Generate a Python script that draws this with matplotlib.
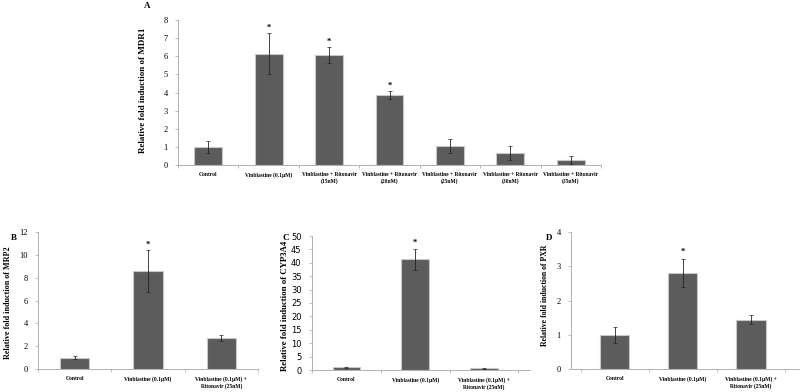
import matplotlib
matplotlib.use("Agg")
import matplotlib.pyplot as plt

W, H = 800, 392

# panel A: MDR1
mdr1_labels = ["Control", "Vinblastine (0.1μM)",
               "Vinblastine + Ritonavir\n(15nM)", "Vinblastine + Ritonavir\n(20nM)",
               "Vinblastine + Ritonavir\n(25nM)", "Vinblastine + Ritonavir\n(30nM)",
               "Vinblastine + Ritonavir\n(35nM)"]
mdr1_vals = [1.0, 6.15, 6.05, 3.85, 1.05, 0.68, 0.27]
mdr1_err = [0.32, 1.14, 0.44, 0.21, 0.40, 0.39, 0.22]
mdr1_sig = [False, True, True, True, False, False, False]

# panels B-D share the same groups
small_labels = ["Control", "Vinblastine (0.1μM)", "Vinblastine (0.1μM) +\nRitonavir (25nM)"]
mrp2_vals = [1.0, 8.6, 2.72]
mrp2_err = [0.15, 1.85, 0.25]
cyp3a4_vals = [1.0, 41.3, 0.7]
cyp3a4_err = [0.2, 4.0, 0.2]
pxr_vals = [1.0, 2.8, 1.44]
pxr_err = [0.24, 0.41, 0.13]
small_sig = [False, True, False]

BAR = "#5c5c5c"
EDGE = "#c8c8c8"
SPINE = "#b0b0b0"
SERIF = "Liberation Serif"


def rect(left, right, top, bottom):
    return [left / W, 1 - bottom / H, (right - left) / W, (bottom - top) / H]


def bar_panel(ax, labels, vals, errs, sig, ymax, ystep, width, star_off,
              tick_font=SERIF, xlim=None):
    x = range(len(vals))
    ax.bar(x, vals, width=width, color=BAR, edgecolor=EDGE, linewidth=0.8, zorder=2)
    ax.errorbar(x, vals, yerr=errs, fmt="none", ecolor="#222222",
                elinewidth=0.6, capsize=1.2, capthick=0.5, zorder=3)
    for i, s in enumerate(sig):
        if s:
            ax.text(i, vals[i] + errs[i] + star_off, "*", ha="center", va="center",
                    fontsize=6, family=SERIF, fontweight="bold")
    n = len(vals)
    ax.set_xlim(xlim if xlim else (-0.5, n - 0.5))
    ax.set_ylim(0, ymax)
    ax.set_yticks([v * ystep for v in range(int(round(ymax / ystep)) + 1)])
    ax.set_xticks(range(n))
    ax.set_xticklabels(labels, family=SERIF, fontsize=4.0, fontweight="bold",
                       linespacing=1.3)
    ax.set_xticks([i + 0.5 for i in range(-1, n)], minor=True)
    ax.tick_params(axis="x", which="major", length=0, pad=5)
    ax.tick_params(axis="x", which="minor", length=2.5, color=SPINE, width=0.6)
    ax.tick_params(axis="y", length=2.5, color=SPINE, width=0.6, pad=5, labelsize=6)
    for t in ax.get_yticklabels():
        t.set_family(tick_font)
    for side in ["top", "right"]:
        ax.spines[side].set_visible(False)
    for side in ["left", "bottom"]:
        ax.spines[side].set_color(SPINE)
        ax.spines[side].set_linewidth(0.7)


fig = plt.figure(figsize=(W / 100, H / 100), dpi=100)

axA = fig.add_axes(rect(178, 601, 20, 165))
bar_panel(axA, mdr1_labels, mdr1_vals, mdr1_err, mdr1_sig, 8, 1, 0.46, 0.3)

axB = fig.add_axes(rect(38, 258, 232, 369))
bar_panel(axB, small_labels, mrp2_vals, mrp2_err, small_sig, 12, 2, 0.4, 0.4)

axC = fig.add_axes(rect(312, 530, 236, 370))
bar_panel(axC, small_labels, cyp3a4_vals, cyp3a4_err, small_sig, 50, 5, 0.4, 2.2,
          tick_font="DejaVu Sans", xlim=(-0.48, 2.67))

axD = fig.add_axes(rect(571, 800, 232, 369))
bar_panel(axD, small_labels, pxr_vals, pxr_err, small_sig, 4, 1, 0.43, 0.2,
          xlim=(-0.64, 2.72))

ylabels = [
    (143, 90, 6.5, "Relative fold induction of MDR1"),
    (8, 303, 5.9, "Relative fold induction of MRP2"),
    (285, 306, 6.3, "Relative fold induction of CYP3A4"),
    (545, 295, 5.6, "Relative fold induction of PXR"),
]
for px, py, fs, txt in ylabels:
    fig.text(px / W, 1 - py / H, txt, rotation=90, ha="center", va="center",
             family=SERIF, fontweight="bold", fontsize=fs)

letters = [(147, 6, "A"), (14, 238, "B"), (286, 238, "C"), (549, 238, "D")]
for px, py, txt in letters:
    fig.text(px / W, 1 - py / H, txt, ha="center", va="center",
             family=SERIF, fontweight="bold", fontsize=6.5)

fig.savefig("out.png", dpi=100)
